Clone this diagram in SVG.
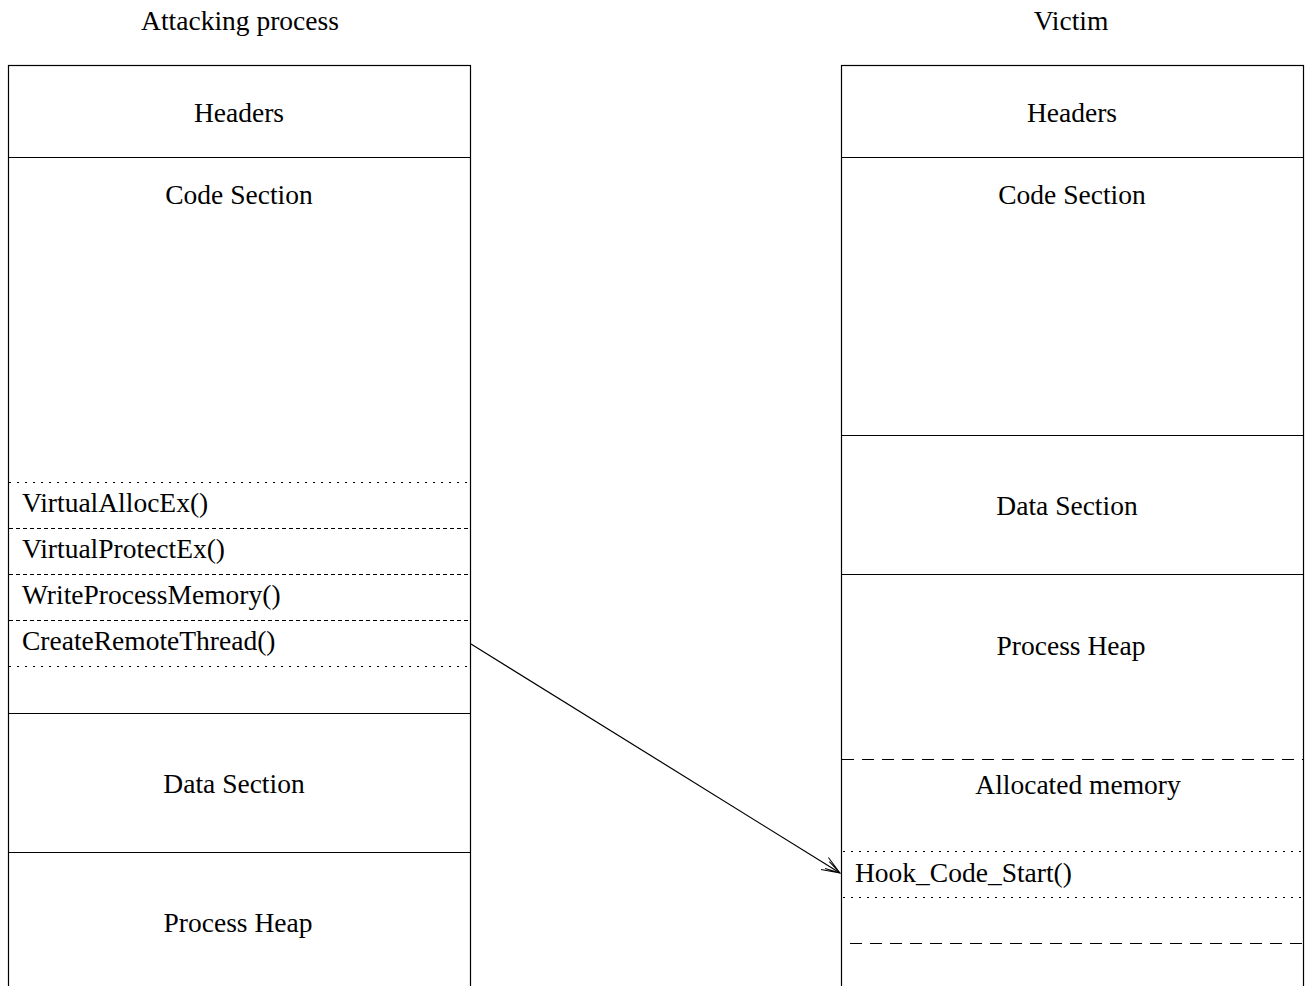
<svg xmlns="http://www.w3.org/2000/svg" width="1305" height="986" viewBox="0 0 1305 986">
<defs>
<style>
text{font-family:"Liberation Serif","Times New Roman",serif;font-size:27.5px;fill:#000}
.c{text-anchor:middle}
.box{fill:none;stroke:#000;stroke-width:1.2}
.ln{stroke:#000;stroke-width:1.2}
.dot{stroke:#000;stroke-width:1;stroke-dasharray:2 6}
.sdash{stroke:#000;stroke-width:1;stroke-dasharray:4 3}
.ldash{stroke:#000;stroke-width:1.2;stroke-dasharray:12 8}
.conn{stroke:#000;stroke-width:1.2;fill:none}
</style>
<marker id="arr" viewBox="0 0 20 20" refX="19" refY="10" markerWidth="20" markerHeight="20" markerUnits="userSpaceOnUse" orient="auto">
<path d="M1,3 L19,10 L1,17 M4,6 L19,10 L4,14" fill="none" stroke="#000" stroke-width="1"/>
</marker>
</defs>
<g id="title-attacker"><text class="c" x="240" y="30">Attacking process</text></g>
<g id="title-victim"><text class="c" x="1071" y="30">Victim</text></g>

<g id="attacker">
<rect class="box" x="8.5" y="65.5" width="462" height="930"/>
<line class="ln" x1="8.5" y1="157.5" x2="470.5" y2="157.5"/>
<line class="ln" x1="8.5" y1="713.5" x2="470.5" y2="713.5"/>
<line class="ln" x1="8.5" y1="852.5" x2="470.5" y2="852.5"/>
</g>
<g id="a-headers"><text class="c" x="239" y="122">Headers</text></g>
<g id="a-code"><text class="c" x="239" y="204">Code Section</text></g>
<g id="a-calls">
<line class="dot" x1="9" y1="482.5" x2="470" y2="482.5"/>
<line class="sdash" x1="9" y1="528.5" x2="470" y2="528.5"/>
<line class="sdash" x1="9" y1="574.5" x2="470" y2="574.5"/>
<line class="sdash" x1="9" y1="620.5" x2="470" y2="620.5"/>
<line class="dot" x1="9" y1="666.5" x2="470" y2="666.5"/>
<text x="22" y="512">VirtualAllocEx()</text>
<text x="22" y="558">VirtualProtectEx()</text>
<text x="22" y="604">WriteProcessMemory()</text>
<text x="22" y="650">CreateRemoteThread()</text>
</g>
<g id="a-data"><text class="c" x="234" y="793">Data Section</text></g>
<g id="a-heap"><text class="c" x="238" y="932">Process Heap</text></g>

<g id="victim">
<rect class="box" x="841.5" y="65.5" width="462" height="930"/>
<line class="ln" x1="841.5" y1="157.5" x2="1303.5" y2="157.5"/>
<line class="ln" x1="841.5" y1="435.5" x2="1303.5" y2="435.5"/>
<line class="ln" x1="841.5" y1="574.5" x2="1303.5" y2="574.5"/>
</g>
<g id="v-headers"><text class="c" x="1072" y="122">Headers</text></g>
<g id="v-code"><text class="c" x="1072" y="204">Code Section</text></g>
<g id="v-data"><text class="c" x="1067" y="515">Data Section</text></g>
<g id="v-heap"><text class="c" x="1071" y="655">Process Heap</text></g>
<g id="v-alloc">
<line class="ldash" x1="842" y1="759.5" x2="1303" y2="759.5"/>
<text class="c" x="1078" y="794">Allocated memory</text>
<line class="dot" x1="843" y1="851.5" x2="1303" y2="851.5"/>
<text x="855" y="882">Hook_Code_Start()</text>
<line class="dot" x1="843" y1="897.5" x2="1303" y2="897.5"/>
<line class="ldash" x1="850" y1="943.5" x2="1303" y2="943.5"/>
</g>

<g id="connectors">
<line class="conn" x1="471" y1="644" x2="840" y2="873" marker-end="url(#arr)"/>
</g>
</svg>
